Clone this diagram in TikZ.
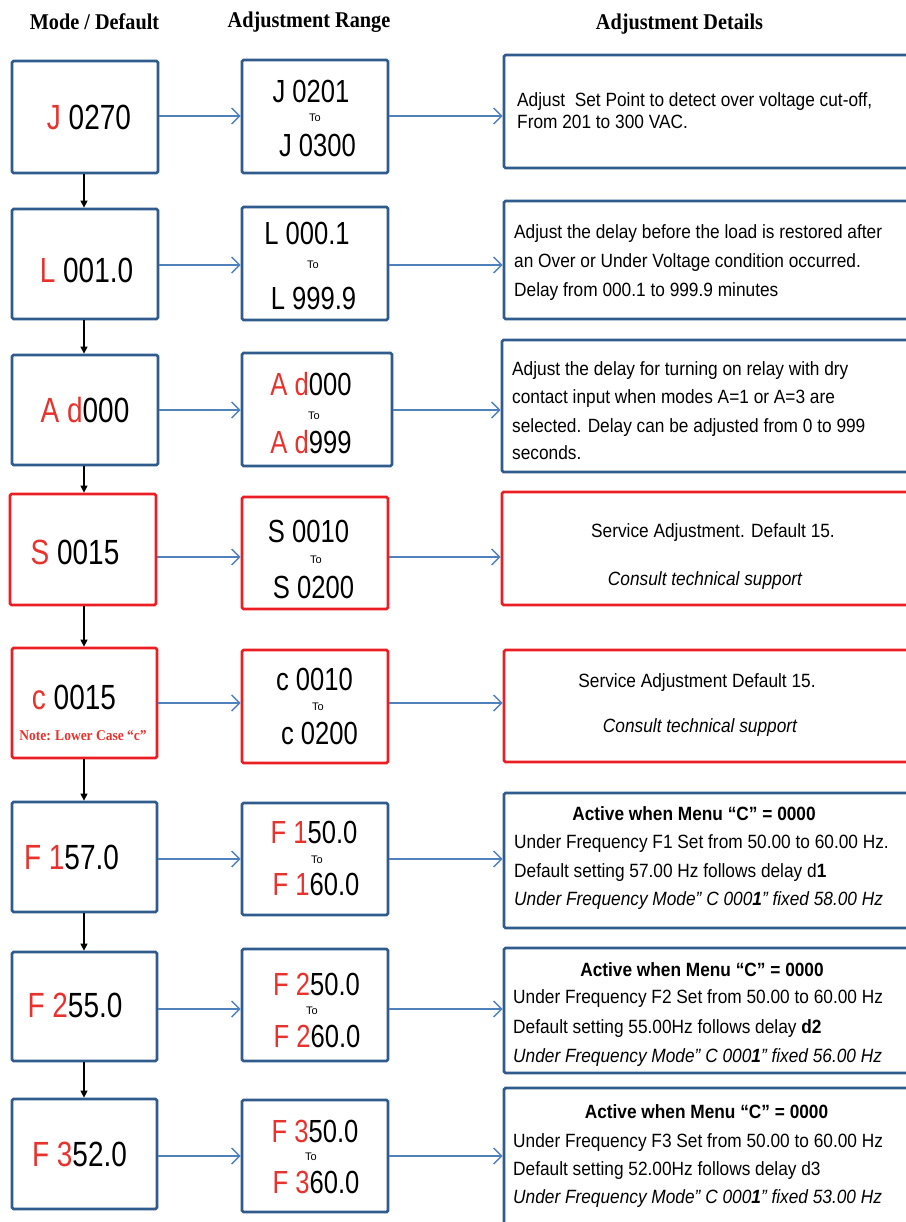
\documentclass[tikz,border=0pt]{standalone}
\usepackage{fontspec}
\setmainfont{Liberation Sans}
\newfontfamily\segfont[FakeStretch=0.8]{Liberation Sans}
\newfontfamily\descfont[FakeStretch=0.9]{Liberation Sans}
\newfontfamily\hdrfont[FakeStretch=0.9]{Liberation Serif}
\usetikzlibrary{arrows.meta}
\definecolor{boxblue}{RGB}{47,92,140}
\definecolor{arrblue}{RGB}{79,129,189}
\definecolor{boxred}{RGB}{235,30,35}
\definecolor{segred}{RGB}{232,50,45}
\newcommand{\rd}[1]{\textcolor{segred}{#1}}
\begin{document}
\begin{tikzpicture}[x=1pt,y=-1pt,
  bbox/.style={draw=boxblue,line width=2.8pt,rounded corners=1.5pt,inner sep=0pt,fill=white},
  rbox/.style={draw=boxred,line width=2.8pt,rounded corners=1.5pt,inner sep=0pt,fill=white},
  segA/.style={inner sep=0pt,font=\segfont\fontsize{35}{35}\selectfont},
  segB/.style={inner sep=0pt,font=\segfont\fontsize{32}{32}\selectfont},
  tolbl/.style={inner sep=0pt,font=\fontsize{11}{11}\selectfont},
  desc/.style={inner sep=0pt,anchor=base west,font=\descfont\fontsize{19.2}{19.2}\selectfont},
  descc/.style={inner sep=0pt,anchor=base,font=\descfont\fontsize{19.2}{19.2}\selectfont},
  hdr/.style={inner sep=0pt,anchor=base,font=\hdrfont\bfseries\fontsize{22.5}{22.5}\selectfont},
  harrow/.style={draw=arrblue,line width=1.4pt,-{Straight Barb[length=8pt,width=16pt]}},
  varrow/.style={draw=black,line width=1.4pt,-{Triangle[length=7pt,width=7pt]}}
]
\useasboundingbox (0,0) rectangle (905,1222);
\fill[white] (0,0) rectangle (905,1222);

% headers
\node[hdr] (h1) at (94.5,30) {Mode / Default};
\node[hdr] (h2) at (309,28) {Adjustment Range};
\node[hdr] (h3) at (679.5,30) {Adjustment Details};

% column 1 boxes
\node[bbox,minimum width=146pt,minimum height=112pt] (m1) at (85,117) {};
\node[bbox,minimum width=146pt,minimum height=110pt] (m2) at (85,264) {};
\node[bbox,minimum width=146pt,minimum height=110pt] (m3) at (85,410) {};
\node[rbox,minimum width=146pt,minimum height=111pt] (m4) at (83,549.5) {};
\node[rbox,minimum width=145pt,minimum height=110pt] (m5) at (84.5,703) {};
\node[bbox,minimum width=145pt,minimum height=110pt] (m6) at (84.5,857) {};
\node[bbox,minimum width=145pt,minimum height=109pt] (m7) at (84.5,1006.5) {};
\node[bbox,minimum width=145pt,minimum height=110pt] (m8) at (84.5,1154) {};

% column 2 boxes
\node[bbox,minimum width=146pt,minimum height=113pt] (r1) at (315,116.5) {};
\node[bbox,minimum width=146pt,minimum height=113pt] (r2) at (315,263.5) {};
\node[bbox,minimum width=150pt,minimum height=113pt] (r3) at (317,409.5) {};
\node[rbox,minimum width=146pt,minimum height=112pt] (r4) at (315,553) {};
\node[rbox,minimum width=146pt,minimum height=113pt] (r5) at (315,706.5) {};
\node[bbox,minimum width=146pt,minimum height=112pt] (r6) at (315,859) {};
\node[bbox,minimum width=146pt,minimum height=112pt] (r7) at (315,1005) {};
\node[bbox,minimum width=146pt,minimum height=112pt] (r8) at (315,1156) {};

% column 3 boxes
\node[bbox,minimum width=406pt,minimum height=113pt] (d1) at (707,111.5) {};
\node[bbox,minimum width=406pt,minimum height=118pt] (d2) at (707,260) {};
\node[bbox,minimum width=408pt,minimum height=132pt] (d3) at (706,406) {};
\node[rbox,minimum width=408pt,minimum height=113pt] (d4) at (706,548.5) {};
\node[rbox,minimum width=406pt,minimum height=112pt] (d5) at (707,706) {};
\node[bbox,minimum width=406pt,minimum height=135pt] (d6) at (707,860.5) {};
\node[bbox,minimum width=406pt,minimum height=125pt] (d7) at (707,1010.5) {};
\node[bbox,minimum width=406pt,minimum height=152pt] (d8) at (707,1164) {};

% column 1 texts
\node[segA] (a1) at (89,117) {\rd{J} 0270};
\node[segA] (a2) at (86.5,270) {\rd{L} 001.0};
\node[segA] (a3) at (85,410) {\rd{A d}000};
\node[segA] (a4) at (75,552) {\rd{S} 0015};
\node[segA] (a5) at (74,697) {\rd{c} 0015};
\node[inner sep=0pt,anchor=base,text=segred,font=\hdrfont\bfseries\fontsize{15}{15}\selectfont] (n5) at (83,740) {Note: Lower Case “c”};
\node[segA] (a6) at (71.5,857.5) {\rd{F 1}57.0};
\node[segA] (a7) at (75,1005.5) {\rd{F 2}55.0};
\node[segA] (a8) at (79.5,1154.5) {\rd{F 3}52.0};

% column 2 texts
\node[segB] (b1a) at (311,91) {J 0201};
\node[tolbl] (b1t) at (315,118) {To};
\node[segB] (b1b) at (317.5,145) {J 0300};
\node[segB] (b2a) at (307,233) {L 000.1};
\node[tolbl] (b2t) at (313,265) {To};
\node[segB] (b2b) at (313.5,298) {L 999.9};
\node[segB] (b3a) at (311,384) {\rd{A d}000};
\node[tolbl] (b3t) at (314,416) {To};
\node[segB] (b3b) at (311,442) {\rd{A d}999};
\node[segB] (b4a) at (308.5,531) {S 0010};
\node[tolbl] (b4t) at (316,560) {To};
\node[segB] (b4b) at (313.5,587) {S 0200};
\node[segB] (b5a) at (314.5,679) {c 0010};
\node[tolbl] (b5t) at (318,707) {To};
\node[segB] (b5b) at (319.5,733) {c 0200};
\node[segB] (b6a) at (314,832.5) {\rd{F 1}50.0};
\node[tolbl] (b6t) at (317,860) {To};
\node[segB] (b6b) at (316,884) {\rd{F 1}60.0};
\node[segB] (b7a) at (316.5,984) {\rd{F 2}50.0};
\node[tolbl] (b7t) at (312,1011) {To};
\node[segB] (b7b) at (317,1036) {\rd{F 2}60.0};
\node[segB] (b8a) at (315,1131) {\rd{F 3}50.0};
\node[tolbl] (b8t) at (311,1157) {To};
\node[segB] (b8b) at (316,1182) {\rd{F 3}60.0};

% column 3 texts
\node[desc] (c1a) at (517,107) {Adjust\ \ Set Point to detect over voltage cut-off,};
\node[desc] (c1b) at (517,129) {From 201 to 300 VAC.};
\node[desc] (c2a) at (514,239) {Adjust the delay before the load is restored after};
\node[desc] (c2b) at (514,268) {an Over or Under Voltage condition occurred.};
\node[desc] (c2c) at (514,297) {Delay from 000.1 to 999.9 minutes};
\node[desc] (c3a) at (512,375) {Adjust the delay for turning on relay with dry};
\node[desc] (c3b) at (512,403) {contact input when modes A=1 or A=3 are};
\node[desc] (c3c) at (512,432) {selected. Delay can be adjusted from 0 to 999};
\node[desc] (c3d) at (512,459) {seconds.};
\node[descc] (c4a) at (713,537) {Service Adjustment. Default 15.};
\node[descc] (c4b) at (705,585) {\itshape Consult technical support};
\node[descc] (c5a) at (697,687) {Service Adjustment Default 15.};
\node[descc] (c5b) at (700,732) {\itshape Consult technical support};
\node[descc] (c6a) at (694,820) {\bfseries Active when Menu “C” = 0000};
\node[desc] (c6b) at (514,848) {Under Frequency F1 Set from 50.00 to 60.00 Hz.};
\node[desc] (c6c) at (514,877) {Default setting 57.00 Hz follows delay d\textbf{1}};
\node[desc] (c6d) at (514,905) {\itshape Under Frequency Mode” C 000\textbf{1}” fixed 58.00 Hz};
\node[descc] (c7a) at (702,976) {\bfseries Active when Menu “C” = 0000};
\node[desc] (c7b) at (513,1003) {Under Frequency F2 Set from 50.00 to 60.00 Hz};
\node[desc] (c7c) at (513,1033) {Default setting 55.00Hz follows delay \textbf{d2}};
\node[desc] (c7d) at (513,1062) {\itshape Under Frequency Mode” C 000\textbf{1}” fixed 56.00 Hz};
\node[descc] (c8a) at (706.5,1118) {\bfseries Active when Menu “C” = 0000};
\node[desc] (c8b) at (513,1147) {Under Frequency F3 Set from 50.00 to 60.00 Hz};
\node[desc] (c8c) at (513,1175) {Default setting 52.00Hz follows delay d3};
\node[desc] (c8d) at (513,1203) {\itshape Under Frequency Mode” C 000\textbf{1}” fixed 53.00 Hz};

% horizontal arrows
\foreach \i/\yy in {1/116,2/265,3/410,4/557,5/703,6/859,7/1009,8/1156}{
  \draw[harrow] (m\i.east |- 0,\yy) -- (r\i.west |- 0,\yy);
  \draw[harrow] (r\i.east |- 0,\yy) -- (d\i.west |- 0,\yy);
}

% vertical arrows
\foreach \i/\j in {1/2,2/3,3/4,4/5,5/6,6/7,7/8}{
  \draw[varrow] (m\i.south -| 84,0) -- (m\j.north -| 84,0);
}
\end{tikzpicture}
\end{document}
